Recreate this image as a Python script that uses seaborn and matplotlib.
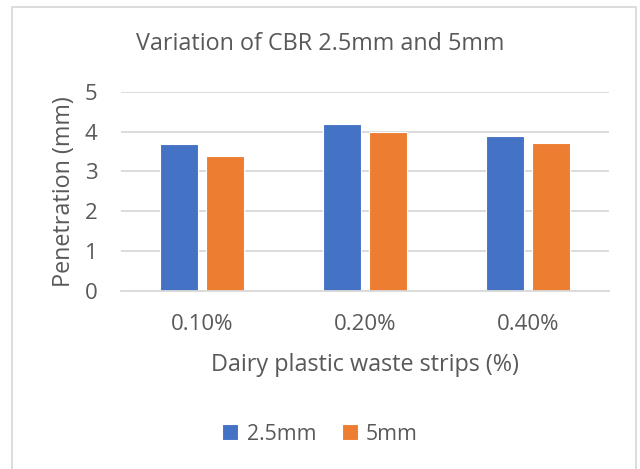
import matplotlib
matplotlib.use("Agg")
import matplotlib.pyplot as plt
import seaborn as sns
import pandas as pd
from matplotlib.patches import Rectangle

categories = ["0.10%", "0.20%", "0.40%"]
series_names = ["2.5mm", "5mm"]
vals_25 = [3.68, 4.18, 3.88]
vals_5 = [3.38, 4.00, 3.72]
yticks = [0, 1, 2, 3, 4, 5]

df = pd.DataFrame({
    "cat": categories * 2,
    "series": [series_names[0]] * 3 + [series_names[1]] * 3,
    "val": vals_25 + vals_5,
})

sns.set_theme(style="white")
plt.rcParams['font.family'] = ['Open Sans', 'DejaVu Sans']
txt = "#595959"

fig = plt.figure(figsize=(6.4, 4.69), dpi=100)
ax = fig.add_axes([0.189, 0.3795, 0.763, 0.425])

sns.barplot(data=df, x="cat", y="val", hue="series", order=categories,
            hue_order=series_names, palette=["#4472C4", "#ED7D31"],
            width=0.5655, gap=0.174, ax=ax, legend=True, saturation=1,
            linewidth=0.8, edgecolor="white")

ax.set_ylim(0, 5)
ax.set_yticks(yticks)
ax.set_xlim(-0.5, 2.5)
ax.yaxis.grid(True, color="#d9d9d9", linewidth=1.3)
ax.set_axisbelow(True)
for s in ["top", "right", "left"]:
    ax.spines[s].set_visible(False)
ax.spines["bottom"].set_color("#d9d9d9")
ax.spines["bottom"].set_linewidth(1.3)
ax.tick_params(axis="both", length=0, colors=txt, labelsize=16)
ax.tick_params(axis="x", pad=16.5)
ax.tick_params(axis="y", pad=17)
ax.set_xlabel("Dairy plastic waste strips (%)", fontsize=16.8, color=txt, labelpad=13)
ax.set_ylabel("Penetration (mm)", fontsize=16.8, color=txt, labelpad=6)

leg = ax.legend(loc="center", bbox_to_anchor=(0.5, 35 / 469), bbox_transform=fig.transFigure,
                ncol=2, frameon=False, fontsize=15.3, handlelength=0.75, handleheight=0.75,
                handletextpad=0.4, columnspacing=1.2)
for t in leg.get_texts():
    t.set_color(txt)

fig.text(0.5, 1 - 44 / 469, "Variation of CBR 2.5mm and 5mm", ha="center", va="center",
         fontsize=16.8, color=txt)

fig.patches.append(Rectangle((12 / 640, -0.01), 624 / 640, 1 - 7 / 469 + 0.01,
                             transform=fig.transFigure, fill=False,
                             edgecolor="#d9d9d9", linewidth=1.3))

fig.savefig("out.png", dpi=100, facecolor="white")
